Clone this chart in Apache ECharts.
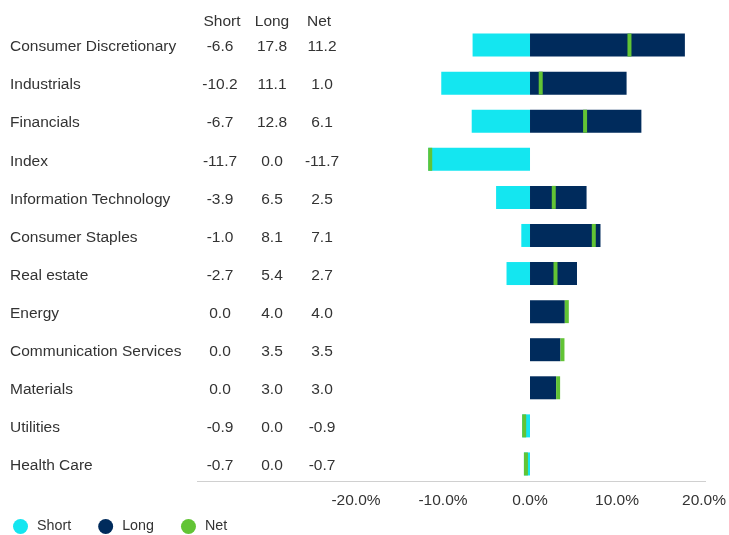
<!DOCTYPE html>
<html>
<head>
    <meta charset="utf-8">
    <title>Short / Long / Net by sector</title>
    <script src="https://cdn.jsdelivr.net/npm/echarts@6.0.0/dist/echarts.min.js"></script>
    <style>
        body { margin: 0; background: #fff; }
        #main { width: 729px; height: 535px; }
    </style>
</head>
<body>
    <div id="main"></div>

<script>
// sectors, top to bottom
const sectors = [
  'Consumer Discretionary', 'Industrials', 'Financials', 'Index',
  'Information Technology', 'Consumer Staples', 'Real estate', 'Energy',
  'Communication Services', 'Materials', 'Utilities', 'Health Care'
];
const shortVals = [-6.6, -10.2, -6.7, -11.7, -3.9, -1.0, -2.7, 0.0, 0.0, 0.0, -0.9, -0.7];
const longVals  = [17.8, 11.1, 12.8, 0.0, 6.5, 8.1, 5.4, 4.0, 3.5, 3.0, 0.0, 0.0];
const netVals   = [11.2, 1.0, 6.1, -11.7, 2.5, 7.1, 2.7, 4.0, 3.5, 3.0, -0.9, -0.7];
const tableHead = ['Short', 'Long', 'Net'];

const C_SHORT = '#14e6f0';
const C_LONG = '#002b5c';
const C_NET = '#62c435';
const TXT = '#333';
const FONT = 'Liberation Sans, Arial, sans-serif';
const FS = 15.5;

const fmt = v => v.toFixed(1);
const cell = (w, a) => ({ width: w, align: a, fontSize: FS, color: TXT, fontFamily: FONT });

const option = {
    textStyle: { fontFamily: FONT },
    animation: false,
    grid: { left: 356, right: 24.5, top: 26, height: 457 },
    xAxis: {
        type: 'value', min: -20, max: 20, interval: 10,
        axisLine: { show: false }, axisTick: { show: false },
        splitLine: { show: false },
        axisLabel: {
            margin: 10, color: TXT, fontSize: FS, fontFamily: FONT,
            formatter: v => v.toFixed(1) + '%'
        }
    },
    yAxis: {
        type: 'category', data: sectors, inverse: true,
        axisLine: { show: false }, axisTick: { show: false },
        axisLabel: {
            align: 'left', margin: 346, padding: [4, 0, 0, 0],
            formatter: (name, i) =>
                `{n|${name}}{s|${fmt(shortVals[i])}}{l|${fmt(longVals[i])}}{t|${fmt(netVals[i])}}`,
            rich: {
                n: cell(180, 'left'),
                s: cell(60, 'center'),
                l: cell(44, 'center'),
                t: cell(56, 'center')
            }
        }
    },
    legend: {
        left: 13, top: 519, padding: 0,
        icon: 'circle', itemWidth: 15, itemHeight: 15, itemGap: 27,
        textStyle: { color: TXT, fontSize: 14.3, fontFamily: FONT, padding: [0, 0, 0, 4] },
        data: ['Short', 'Long', 'Net']
    },
    graphic: [
        { type: 'line', shape: { x1: 197, y1: 481.5, x2: 706, y2: 481.5 },
          style: { stroke: '#d0d0d0', lineWidth: 1 } },
        ...tableHead.map((h, i) => ({
            type: 'text', x: [222, 272, 319][i], y: 22,
            style: { text: h, fill: TXT, font: FS + 'px ' + FONT, align: 'center', verticalAlign: 'middle' }
        }))
    ],
    series: [
        {
            name: 'Short', type: 'bar', data: shortVals, barWidth: 23, barGap: '-100%',
            itemStyle: { color: C_SHORT }
        },
        {
            name: 'Long', type: 'bar', data: longVals, barWidth: 23, barGap: '-100%',
            itemStyle: { color: C_LONG }
        },
        {
            name: 'Net', type: 'scatter', data: netVals, z: 5,
            symbol: 'rect', symbolSize: [4, 23], symbolOffset: [2, 0],
            itemStyle: { color: C_NET, opacity: 1 }
        }
    ]
};

const chart = echarts.init(document.getElementById('main'));
chart.setOption(option);
</script>
</body>
</html>
